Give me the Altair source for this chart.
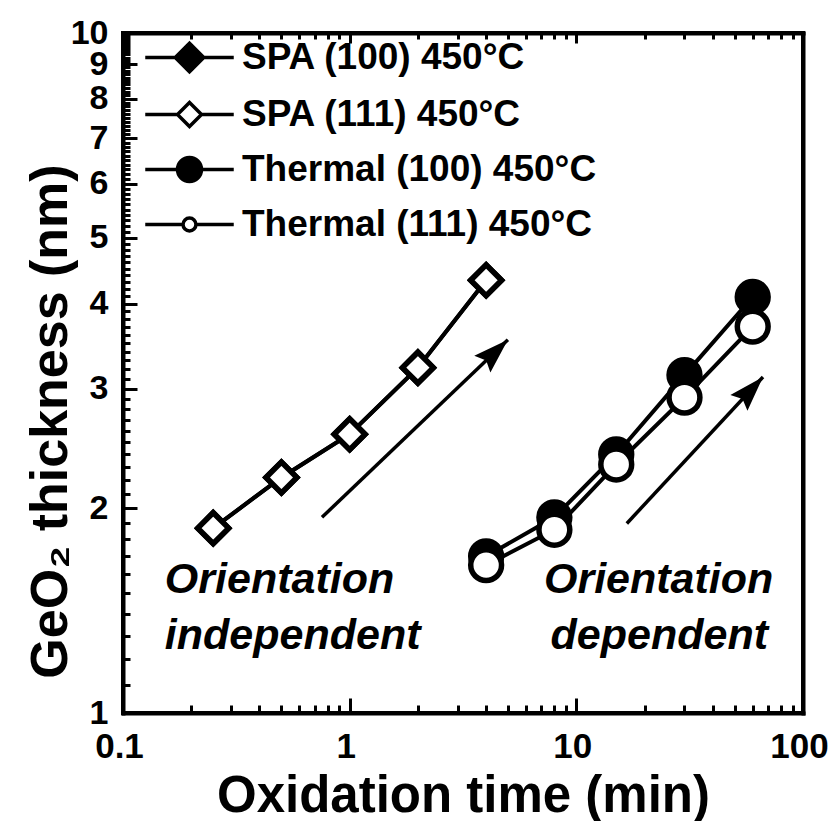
import math

import altair as alt
import pandas as pd

# ---- data -------------------------------------------------------------
series = ["SPA (100) 450°C", "SPA (111) 450°C", "Thermal (100) 450°C", "Thermal (111) 450°C"]

spa_time = [0.25, 0.5, 1, 2, 4]
spa100_thickness = [1.87, 2.22, 2.57, 3.22, 4.33]
spa111_thickness = [1.87, 2.22, 2.57, 3.22, 4.33]

thermal_time = [4, 8, 15, 30, 60]
thermal100_thickness = [1.70, 1.94, 2.40, 3.14, 4.09]
thermal111_thickness = [1.65, 1.86, 2.32, 2.91, 3.70]

note_text = ["Orientation", "independent", "Orientation", "dependent"]
note_time = [0.153, 0.153, 7.2, 7.7]
note_thickness = [1.57, 1.30, 1.57, 1.30]

arrow_id = ["left", "left", "right", "right"]
arrow_time = [0.755, 4.99, 16.7, 66.6]
arrow_thickness = [1.94, 3.54, 1.90, 3.12]

x_labels = [0.1, 1, 10, 100]
y_labels = [1, 2, 3, 4, 5, 6, 7, 8, 9, 10]
x_minor = [m * 10.0 ** k for k in (-1, 0, 1) for m in range(2, 10)]
y_minor = [i / 10 for i in range(11, 100) if i % 10]

x_title = "Oxidation time (min)"
y_title = "GeO₂ thickness (nm)"

# ---- layout constants --------------------------------------------------
W, H = 680, 680
FONT = "Liberation Sans"
X_DECADES, Y_DECADES = 3, 1

# ---- tables ------------------------------------------------------------
order = [0, 2, 1, 3]  # open symbols are drawn over the filled ones
values = [
    (spa_time, spa100_thickness),
    (spa_time, spa111_thickness),
    (thermal_time, thermal100_thickness),
    (thermal_time, thermal111_thickness),
]
rows = []
for idx in order:
    t, v = values[idx]
    for ti, vi in zip(t, v):
        rows.append({"series": series[idx], "time": ti, "thickness": vi})
pts = pd.DataFrame(rows)

notes = pd.DataFrame({"time": note_time, "thickness": note_thickness, "text": note_text})
arrows = pd.DataFrame({"id": arrow_id, "time": arrow_time, "thickness": arrow_thickness})

# arrow head direction follows each shaft on screen
heads = []
for name in dict.fromkeys(arrow_id):
    seg = arrows[arrows["id"] == name]
    (t0, t1), (v0, v1) = seg["time"].tolist(), seg["thickness"].tolist()
    dx = W / X_DECADES * math.log10(t1 / t0)
    dy = H / Y_DECADES * math.log10(v1 / v0)
    heads.append({"time": t1, "thickness": v1, "angle": 90 - math.degrees(math.atan2(dy, dx))})
heads = pd.DataFrame(heads)

# ---- scales ------------------------------------------------------------
xs = alt.Scale(type="log", domain=[0.1, 100])
ys = alt.Scale(type="log", domain=[1, 10])

# ---- axes: labelled axes, inward tick sets and the frame edges ---------
# An axis pulled inward by its own tick length draws its ticks inside the plot.
label_props = dict(
    labelFont=FONT, labelFontWeight="bold", labelColor="black",
    labelFlush=False, labelOverlap=False,
)
title_props = dict(titleFont=FONT, titleFontWeight="bold", titleColor="black",
                   titleAlign="center", titleBaseline="middle")


def tick_axis(orient, vals, length):
    return alt.Axis(
        orient=orient, offset=-length, values=vals, tickSize=length, tickWidth=3,
        tickColor="black", labels=False, domain=False, grid=False, title=None,
    )


def edge_axis(orient):
    return alt.Axis(
        orient=orient, ticks=False, labels=False, grid=False, title=None,
        domain=True, domainWidth=4, domainColor="black", domainCap="square",
    )


x_main = alt.Axis(
    orient="bottom", offset=-15, values=x_labels, format="~g",
    tickSize=15, tickWidth=3, tickColor="black", domain=False, grid=False,
    labelFontSize=35, labelPadding=16, labelOffset=-4, **label_props,
    title=x_title, titleFontSize=51, titleX=W / 2, titleY=98, **title_props,
)
y_main = alt.Axis(
    orient="left", offset=-14, values=y_labels, format="~g",
    tickSize=14, tickWidth=3, tickColor="black", domain=False, grid=False,
    labelFontSize=34, labelPadding=15, labelBaseline="middle", **label_props,
    title=y_title, titleFontSize=52, titleAngle=270, titleX=-87, titleY=388, **title_props,
)


def enc(xaxis, yaxis):
    return dict(
        x=alt.X("time:Q", scale=xs, axis=xaxis),
        y=alt.Y("thickness:Q", scale=ys, axis=yaxis),
    )


# ---- data lines and markers ------------------------------------------
lines = alt.Chart(pts).mark_line(color="black", strokeWidth=4).encode(
    **enc(x_main, y_main), detail="series:N",
)

markers = alt.Chart(pts).mark_point(filled=True, stroke="black", strokeWidth=5.5, opacity=1).encode(
    **enc(tick_axis("bottom", x_minor, 8), tick_axis("left", y_minor, 7)),
    shape=alt.Shape("series:N", scale=alt.Scale(domain=series, range=["diamond", "diamond", "circle", "circle"]), legend=None),
    fill=alt.Fill("series:N", scale=alt.Scale(domain=series, range=["black", "white", "black", "white"]), legend=None),
    size=alt.Size("series:O", scale=alt.Scale(domain=series, range=[950, 950, 400, 280]), legend=None),
)

# ---- annotations -----------------------------------------------------
shaft_layer = alt.Chart(arrows).mark_line(color="black", strokeWidth=3.5).encode(
    **enc(tick_axis("top", x_labels, 10), edge_axis("right")), detail="id:N",
)
head_layer = alt.Chart(heads).mark_point(
    shape="M0,0L0.33,1L0,0.85L-0.33,1Z", filled=True, color="black", strokeWidth=0, size=5000, opacity=1
).encode(
    **enc(tick_axis("top", x_minor, 6), edge_axis("left")),
    angle=alt.Angle("angle:Q", scale=None),
)
note_layer = alt.Chart(notes).mark_text(
    font=FONT, fontStyle="italic", fontWeight="bold", fontSize=43, align="left", baseline="middle", color="black"
).encode(**enc(edge_axis("bottom"), None), text="text:N")

# ---- legend: a short line drawn through each marker --------------------
legend_shapes = [
    "M-2.95,0L-0.95,0M0.95,0L2.95,0M-0.95,0L0,-0.95L0.95,0L0,0.95Z",
    "M-2.95,0L-0.8,0M0.8,0L2.95,0M-0.8,0L0,-0.8L0.8,0L0,0.8Z",
    "M-2.95,0L-0.8,0M0.8,0L2.95,0M-0.8,0A0.8,0.8,0,1,0,0.8,0A0.8,0.8,0,1,0,-0.8,0Z",
    "M-2.95,0L-0.43,0M0.43,0L2.95,0M-0.43,0A0.43,0.43,0,1,0,0.43,0A0.43,0.43,0,1,0,-0.43,0Z",
]
legend_def = alt.Legend(
    title=None, orient="none", legendX=48, legendY=6, padding=0,
    symbolSize=900, symbolStrokeWidth=3.5, symbolStrokeColor="black", symbolOffset=0,
    labelFont=FONT, labelFontWeight="bold", labelFontSize=37, labelColor="black",
    labelOffset=34, labelLimit=0, rowPadding=16,
)
legend_layer = alt.Chart(pts).transform_filter("false").mark_point(
    filled=True, strokeWidth=3.5, size=900, opacity=1
).encode(
    **enc(edge_axis("top"), None),
    shape=alt.Shape("series:N", scale=alt.Scale(domain=series, range=legend_shapes), legend=legend_def),
    fill=alt.Fill("series:N", scale=alt.Scale(domain=series, range=["black", "white", "black", "white"]), legend=legend_def),
    stroke=alt.Stroke("series:N", scale=alt.Scale(domain=series, range=["black"] * 4), legend=legend_def),
)

chart = alt.layer(
    lines, markers, shaft_layer, head_layer, note_layer, legend_layer,
).resolve_scale(
    shape="independent", fill="independent", size="independent", stroke="independent"
).resolve_axis(
    x="independent", y="independent"
).properties(
    width=W, height=H,
    padding={"left": 123, "top": 33, "right": 35, "bottom": 108},
    autosize=alt.AutoSizeParams(type="none"),
).configure_view(
    stroke="black", strokeWidth=4
)

chart.save("out.html", embed_options={"renderer": "svg", "actions": False})
